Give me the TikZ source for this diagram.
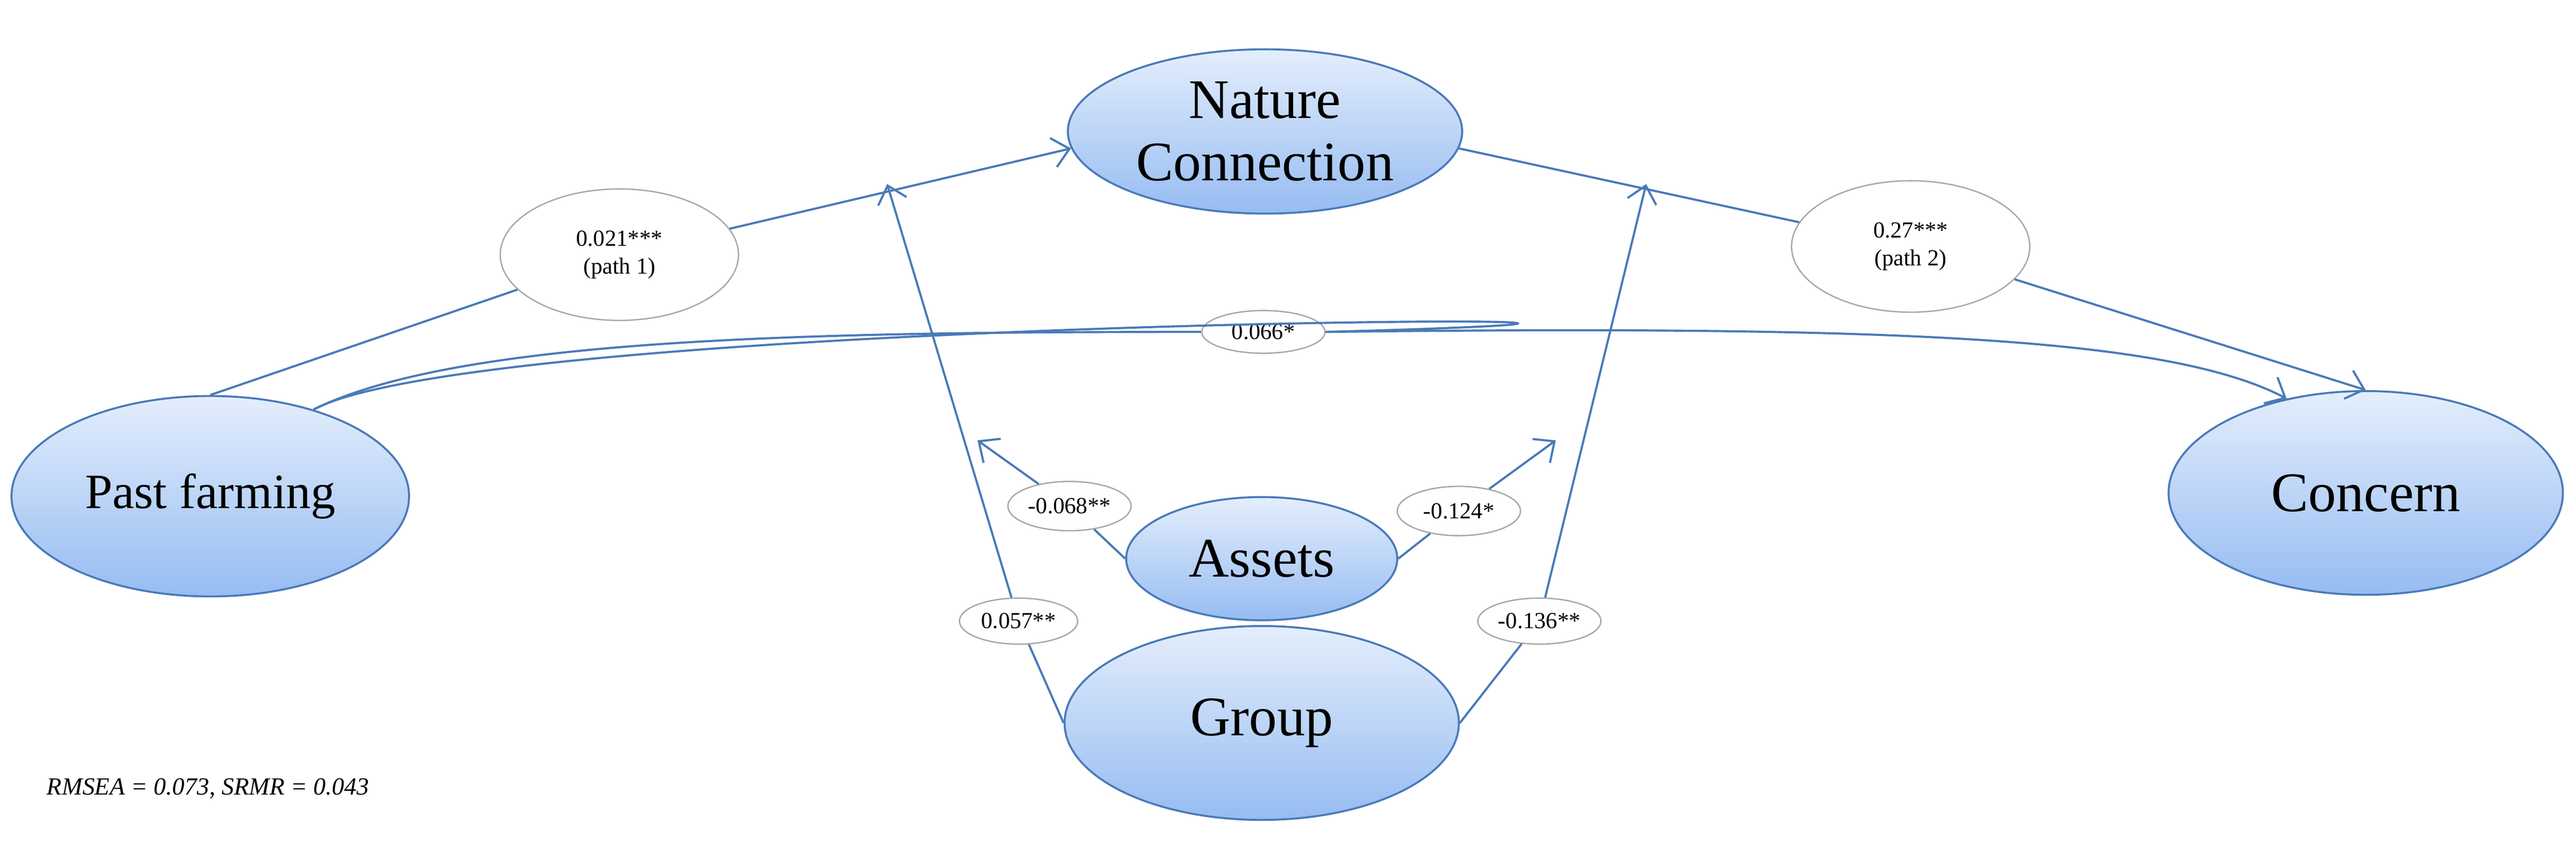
\documentclass[tikz,border=0pt]{standalone}
\usepackage{fontspec}
\setmainfont{Liberation Serif}
\usetikzlibrary{shapes.geometric,arrows.meta}
\definecolor{edge}{RGB}{74,122,184}
\definecolor{ntop}{RGB}{228,238,252}
\definecolor{nbot}{RGB}{150,188,242}
\tikzset{
 main/.style={ellipse,draw=edge,line width=1.2pt,top color=ntop,bottom color=nbot,inner sep=0pt,align=center,font=\fontsize{34}{38}\selectfont},
 lab/.style={ellipse,draw=gray!70,line width=0.8pt,fill=white,inner sep=0pt,align=center,font=\fontsize{14}{17}\selectfont},
 con/.style={draw=edge,line width=1.3pt},
 arr/.style={con,-{Straight Barb[length=10pt,width=18pt,line width=1.3pt]}}
}
\begin{document}
\begin{tikzpicture}[x=1pt,y=-1pt]
\useasboundingbox (0,0) rectangle (1568,513);
\node[main,minimum width=240,minimum height=100] (nc) at (770,80) {Nature\\Connection};
\node[main,minimum width=242,minimum height=122,font=\fontsize{30}{34}\selectfont] (pf) at (128,302) {Past farming};
\node[main,minimum width=240,minimum height=124] (co) at (1440,300) {Concern};
\node[main,minimum width=240,minimum height=118] (gr) at (768,440) {Group};
\node[main,minimum width=165,minimum height=75] (as) at (768,340) {Assets};
\node[lab,minimum width=145,minimum height=80] (l1) at (377,155) {0.021***\\(path 1)};
\node[lab,minimum width=145,minimum height=80] (l2) at (1163,150) {0.27***\\(path 2)};
\node[lab,minimum width=75,minimum height=26] (l3) at (769,202) {0.066*};
\node[lab,minimum width=75,minimum height=30] (l4) at (651,308) {-0.068**};
\node[lab,minimum width=75,minimum height=30] (l5) at (888,311) {-0.124*};
\node[lab,minimum width=72,minimum height=28] (l6) at (620,378) {0.057**};
\node[lab,minimum width=75,minimum height=28] (l7) at (937,378) {-0.136**};
\coordinate (a1) at (540,112);
\coordinate (a2) at (1002,112);
\coordinate (a3) at (595,268);
\coordinate (a4) at (947,268);
\draw[con] (pf.north) -- (l1);
\draw[arr] (l1) -- (nc.185);
\draw[con] (nc.-5) -- (l2);
\draw[arr] (l2) -- (co.north);
\draw[con] (pf.40) .. controls (300,190) and (1250,190) .. (l3.east) ;
\draw[arr] (l3.east) .. controls (1150,198) and (1320,205) .. (co.130);
\draw[con] (pf.40) .. controls (280,205) and (500,202) .. (l3.west);
\draw[con] (gr.west) -- (l6);
\draw[arr] (l6) -- (a1);
\draw[con] (gr.east) -- (l7);
\draw[arr] (l7) -- (a2);
\draw[con] (as.west) -- (l4);
\draw[arr] (l4) -- (a3);
\draw[con] (as.east) -- (l5);
\draw[arr] (l5) -- (a4);
\node[anchor=west,font=\fontsize{15}{18}\selectfont\itshape] (fit) at (25,480) {RMSEA = 0.073, SRMR = 0.043};
\end{tikzpicture}
\end{document}
